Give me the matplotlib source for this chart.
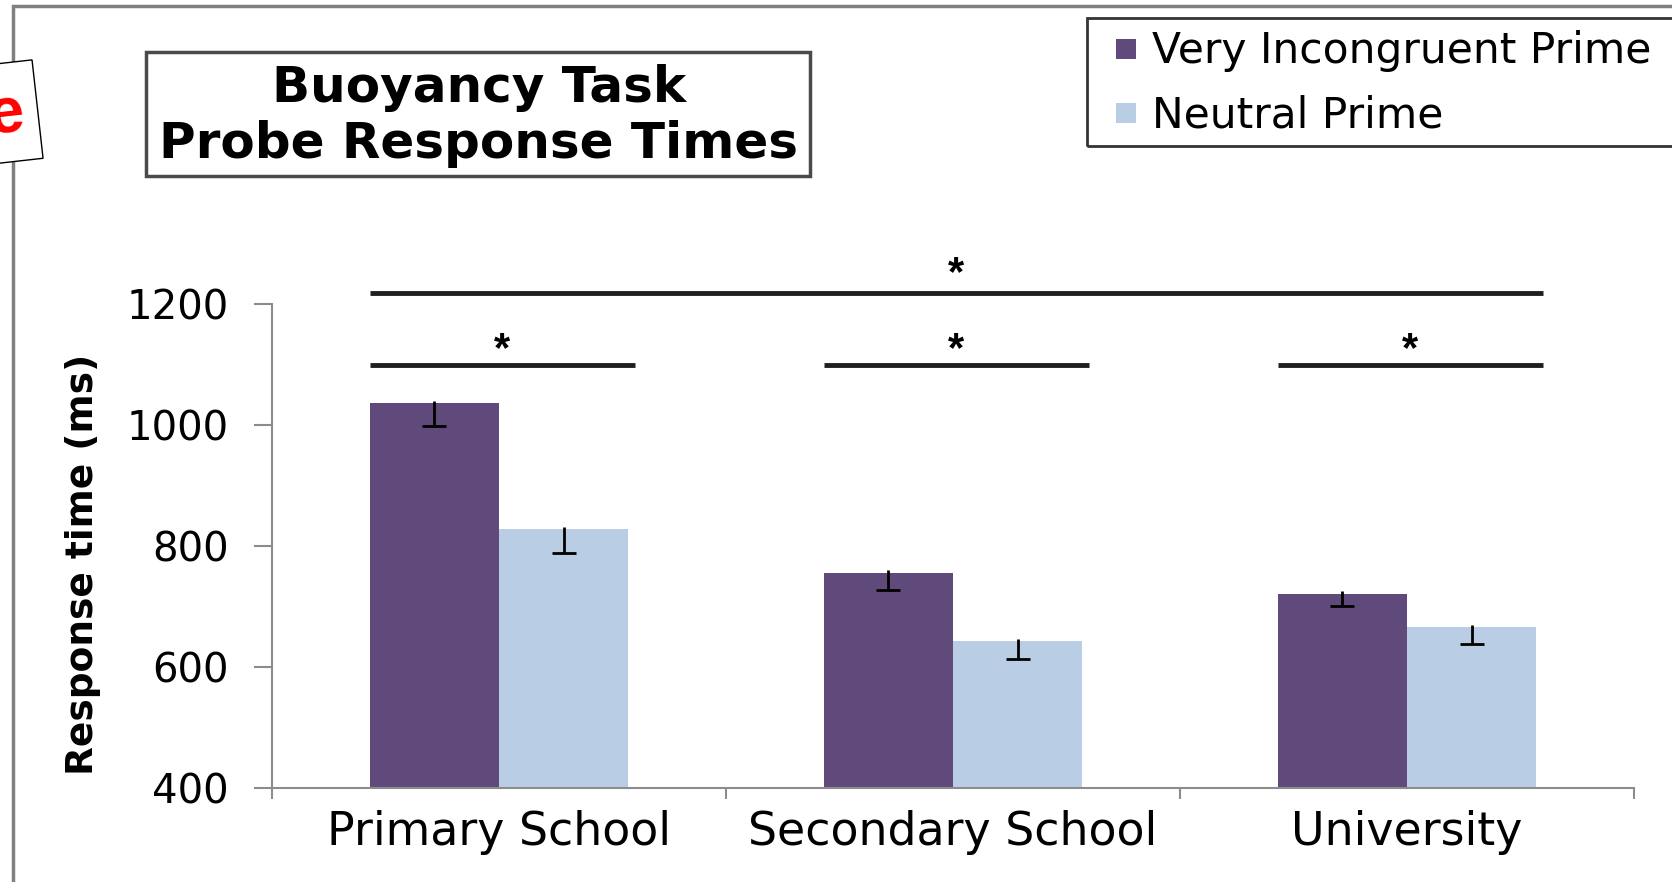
import numpy as np
import matplotlib
matplotlib.use("Agg")
import matplotlib.pyplot as plt
from matplotlib.patches import Rectangle

categories = ["Primary School", "Secondary School", "University"]
series_names = ["Very Incongruent Prime", "Neutral Prime"]
very_incongruent = [1036, 756, 721]
neutral = [828, 643, 666]
very_incongruent_err = [38, 28, 20]
neutral_err = [40, 30, 28]
yticks = [400, 600, 800, 1000, 1200]
title_lines = ["Buoyancy Task", "Probe Response Times"]
ylabel = "Response time (ms)"

# significance bars: first category, last category, height (ms)
sig_from = [0, 1, 2, 0]
sig_to = [0, 1, 2, 2]
sig_height = [1100, 1100, 1100, 1219]

colors = ["#604A7B", "#B9CDE5"]
axis_gray = "#8C8C8C"

# the original text is wide-set, DejaVu matches its widths better
plt.rcParams["font.family"] = ["DejaVu Sans"]

W, H = 1672, 882
fig = plt.figure(figsize=(W / 100, H / 100), dpi=100)


def fx(px):
    return px / W


def fy(py):
    return 1 - py / H


# outer frame (cropped on the right and bottom)
fig.patches.append(Rectangle((fx(13), fy(H + 20)), 1.2, fy(6) - fy(H + 20),
                             transform=fig.transFigure, fill=False,
                             ec="#808080", lw=2.5))

# partly visible rotated note in the top-left corner
fig.patches.append(Rectangle((-1.06, 7.07), 1.5, 0.99, angle=6.4,
                             transform=fig.dpi_scale_trans, fc="white",
                             ec="black", lw=1))
fig.text(fx(6), fy(116), "e", color="red", fontsize=46, fontweight="bold",
         family="Liberation Sans", ha="center", va="center", rotation=6.4)

# title box
fig.patches.append(Rectangle((fx(146), fy(176)), fx(810) - fx(146), fy(52) - fy(176),
                             transform=fig.transFigure, fill=False,
                             ec="#4a4a4a", lw=2.5))
fig.text(fx(479), fy(88), title_lines[0], fontsize=36, fontweight="bold",
         ha="center", va="center")
fig.text(fx(479), fy(144), title_lines[1], fontsize=36, fontweight="bold",
         ha="center", va="center")

# legend box
fig.patches.append(Rectangle((fx(1087), fy(146)), 1.0, fy(18) - fy(146),
                             transform=fig.transFigure, fill=False,
                             ec="#333333", lw=2))
for i, name in enumerate(series_names):
    ycen = [49, 113][i]
    fig.patches.append(Rectangle((fx(1116), fy(ycen + 10)), fx(20), fy(0) - fy(20),
                                 transform=fig.transFigure, fc=colors[i], ec="none"))
    fig.text(fx(1152), fy(ycen + 2), name, fontsize=30.5, ha="left", va="center")

ax = fig.add_axes([fx(272), fy(788), fx(1634) - fx(272), fy(304) - fy(788)])

x = np.arange(len(categories))
bw = 0.285
values = [very_incongruent, neutral]
errors = [very_incongruent_err, neutral_err]
for i in range(2):
    xs = x + (i - 0.5) * bw
    vals = np.array(values[i])
    lo = vals - np.array(errors[i])
    ax.bar(xs, vals, width=bw, color=colors[i], label=series_names[i], zorder=2)
    ax.vlines(xs, lo, vals + 4, color="black", lw=2, zorder=3)
    ax.plot(xs, lo, ls="none", marker="_", ms=17, mew=2, color="black", zorder=3)

for a, b, h in zip(sig_from, sig_to, sig_height):
    x0 = a - bw
    x1 = b + bw + 0.015
    ax.plot([x0, x1], [h, h], color="#1f1f1f", lw=3.5, clip_on=False,
            solid_capstyle="butt")
    off = 10.5 if a == b else 13
    ax.annotate("*", ((x0 + x1) / 2, h), xytext=(0, off), textcoords="offset points",
                ha="center", va="center", fontsize=30, fontweight="bold",
                family="Liberation Sans", annotation_clip=False)

ax.set_xlim(-0.5, len(categories) - 0.5)
ax.set_ylim(yticks[0], yticks[-1])
ax.set_yticks(yticks)
ax.set_xticks(x)
ax.set_xticklabels(categories, fontsize=33)
ax.set_xticks(np.arange(len(categories) + 1) - 0.5, minor=True)
ax.tick_params(axis="x", which="major", length=0, pad=16)
ax.tick_params(axis="x", which="minor", length=8, width=1.5, color=axis_gray)
ax.tick_params(axis="y", length=13, width=1.5, color=axis_gray, pad=18, labelsize=29)
ax.set_ylabel(ylabel, fontsize=27, fontweight="bold")
ax.yaxis.set_label_coords(-0.1256, 0.463)

for side in ["top", "right"]:
    ax.spines[side].set_visible(False)
for side in ["left", "bottom"]:
    ax.spines[side].set_color(axis_gray)
    ax.spines[side].set_linewidth(1.5)

fig.savefig("out.png", dpi=100)
